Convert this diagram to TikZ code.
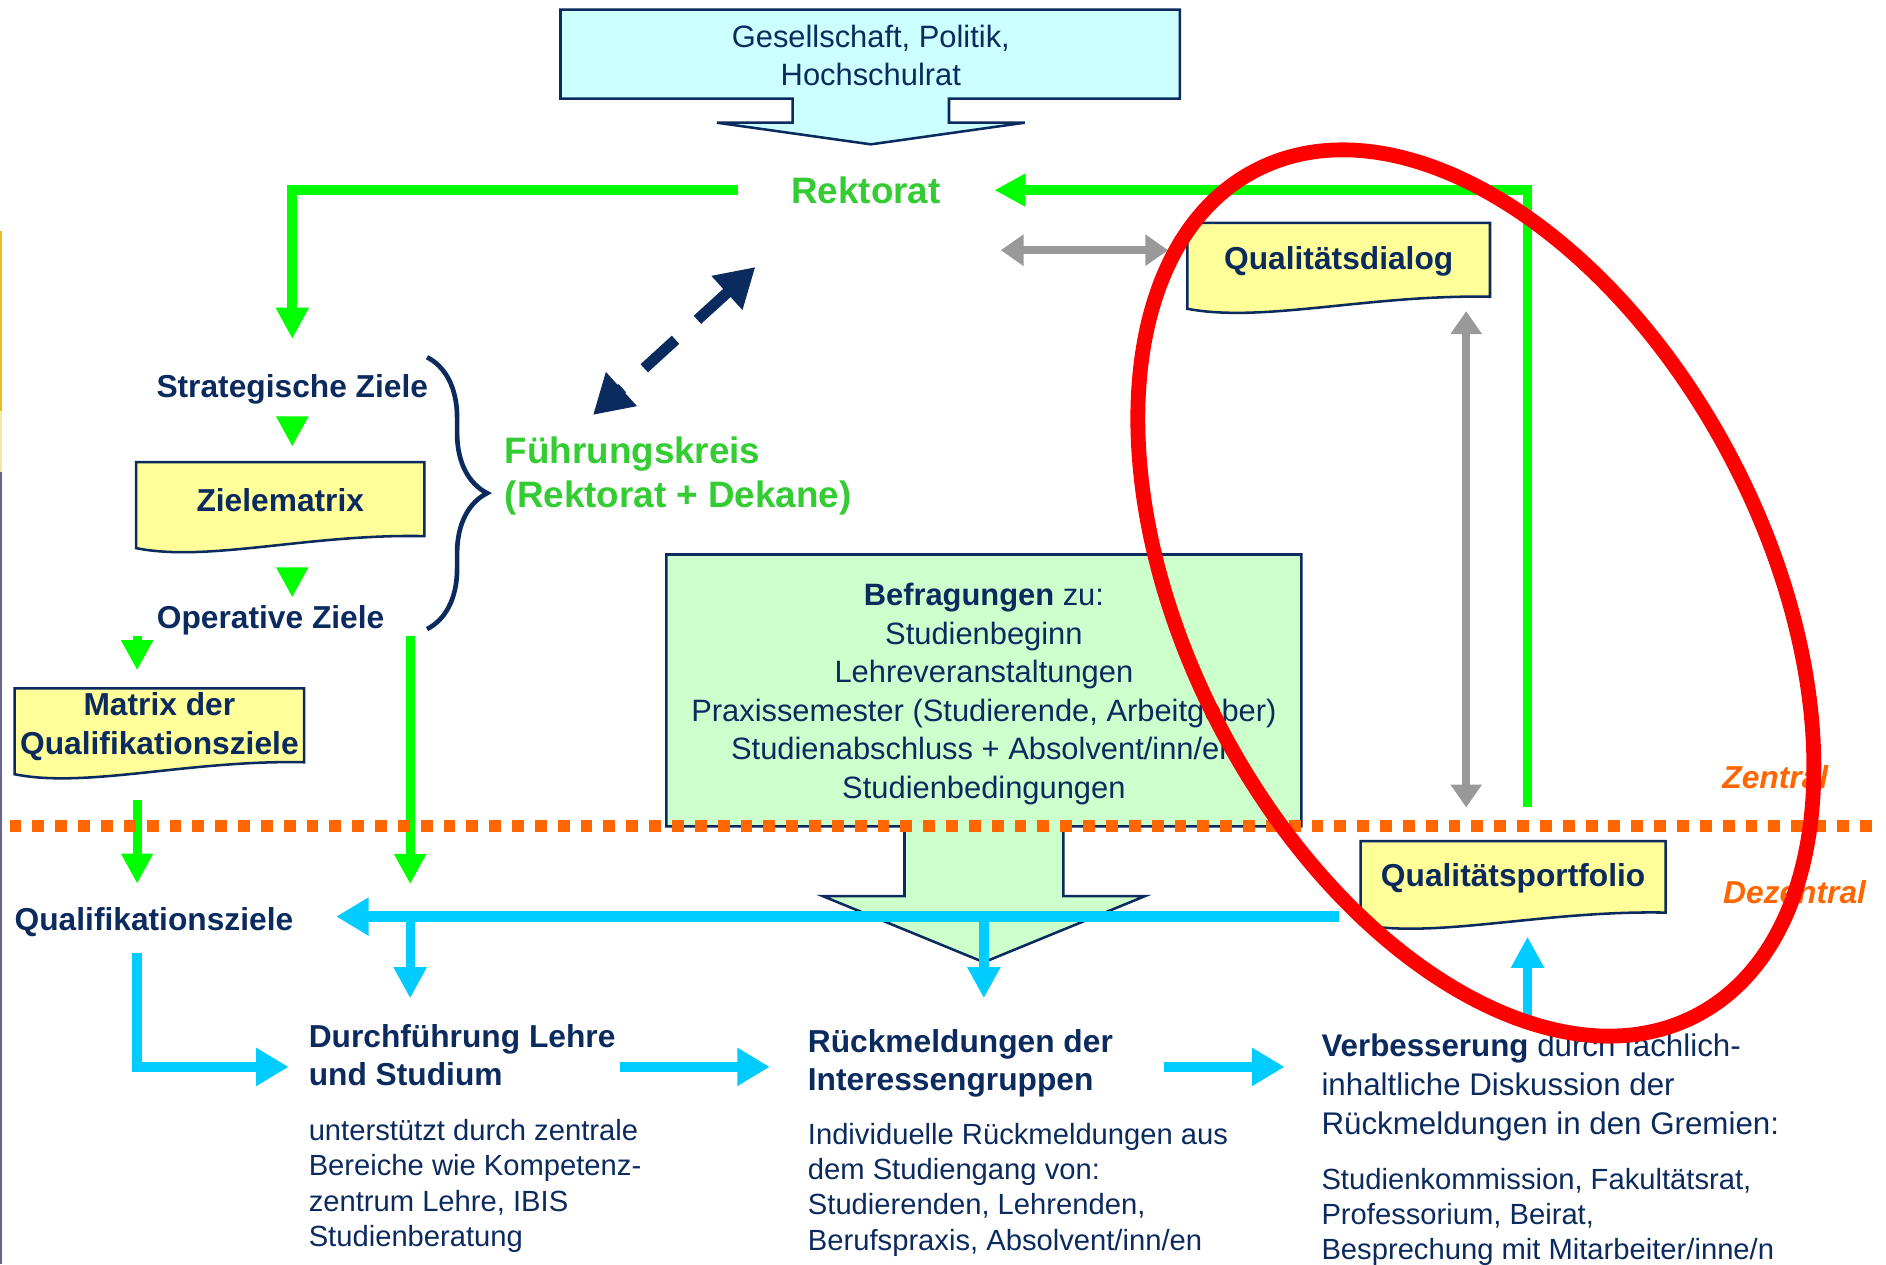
\documentclass[tikz,border=0pt]{standalone}
\usepackage{fontspec}
\setmainfont{Liberation Sans}
\usetikzlibrary{arrows.meta,calc,backgrounds,decorations.pathreplacing}

\definecolor{navy}{HTML}{0B2A5E}
\definecolor{rgreen}{HTML}{33CC33}
\definecolor{lgreen}{HTML}{00FF00}
\definecolor{qcyan}{HTML}{00CCFF}
\definecolor{qgray}{HTML}{999999}
\definecolor{qorange}{HTML}{FF6600}
\definecolor{qyellow}{HTML}{FFFF99}
\definecolor{skyfill}{HTML}{CCFFFF}
\definecolor{mintfill}{HTML}{CCFFCC}
\definecolor{edgeyellow}{HTML}{E6BE1E}
\definecolor{edgeblue}{HTML}{64648C}

\newcommand{\fbig}{\fontsize{8.7}{10.5}\selectfont}
\newcommand{\flbl}{\fontsize{7.5}{9.1}\selectfont}
\newcommand{\ftxt}{\fontsize{7.3}{9.1}\selectfont}
\newcommand{\fsub}{\fontsize{6.9}{8.35}\selectfont}
\newcommand{\fverb}{\fontsize{7.4}{9.25}\selectfont}

\newcommand{\wavebox}[1]{%
  \draw[docframe] (#1.north west) -- (#1.north east) -- ($(#1.south east)+(0,-2)$)
    .. controls ($(#1.south)!0.2!(#1.south east)+(0,-4)$) and ($(#1.south)!0.5!(#1.south west)+(0,20)$)
    .. ($(#1.south west)+(0,8)$) -- cycle;}

\begin{document}
\begin{tikzpicture}[x=0.01cm, y=-0.01cm,
  lbl/.style={font=\flbl\bfseries, text=navy, inner sep=0},
  chef/.style={font=\fbig\bfseries, text=rgreen, inner sep=0},
  zone/.style={font=\flbl\bfseries\itshape, text=qorange, inner sep=0, anchor=base},
  subtext/.style={font=\fsub, text=navy, inner sep=0, align=left, anchor=north west},
  docbox/.style={lbl, align=center},
  docframe/.style={draw=navy, fill=qyellow, line width=0.6pt},
  boxframe/.style={draw=navy, line width=0.6pt},
  topline/.style={draw=lgreen, line width=2.3pt, -{Triangle[width=0.26cm,length=0.26cm]}},
  tipline/.style={draw=lgreen, line width=2.1pt, -{Triangle[width=0.25cm,length=0.25cm]}},
  feedline/.style={draw=qcyan, line width=2.4pt, -{Triangle[width=0.3cm,length=0.27cm]}},
  feeddown/.style={draw=qcyan, line width=2.2pt, -{Triangle[width=0.26cm,length=0.26cm]}},
  dialogline/.style={draw=qgray, line width=2pt, {Triangle[width=0.25cm,length=0.19cm]}-{Triangle[width=0.25cm,length=0.19cm]}},
  leadline/.style={draw=navy, line width=2.6pt, dash pattern=on 10pt off 7pt, {Triangle[width=0.36cm,length=0.32cm]}-{Triangle[width=0.36cm,length=0.32cm]}}]
\useasboundingbox (0,0) rectangle (1568,1051);

\draw[edgeyellow, line width=0.6pt] (1,192) -- (1,342);
\draw[edgeyellow!40, line width=0.6pt] (1,342) -- (1,392);
\draw[edgeblue, line width=0.6pt] (1,392) -- (1,1051);

\draw[boxframe, fill=skyfill] (466,8) -- (981,8) -- (981,82) -- (789,82) -- (789,102) -- (852,102)
  -- (724,120) -- (596,102) -- (659,102) -- (659,82) -- (466,82) -- cycle;
\draw[boxframe, fill=mintfill] (554,461) -- (1082,461) -- (1082,687) -- (884,687) -- (884,745) -- (952,745)
  -- (818,800) -- (684,745) -- (752,745) -- (752,687) -- (554,687) -- cycle;

\node[font=\ftxt, text=navy, align=center, inner sep=0] (gesell) at (724,46) {Gesellschaft, Politik,\\Hochschulrat};
\node[chef, anchor=base, minimum width=2.12cm] (rektorat) at (720,169) {Rektorat};
\node[lbl, anchor=base] (strat) at (243,330.5) {Strategische Ziele};
\node[docbox, minimum width=2.38cm, minimum height=0.62cm] (zmatrix) at (233,416) {Zielematrix};
\node[lbl, anchor=base] (opziele) at (225,522.5) {Operative Ziele};
\node[docbox, minimum width=2.39cm, minimum height=0.62cm] (mqual) at (132.5,604) {Matrix der\\Qualifikationsziele};
\node[lbl, anchor=base] (qziele) at (128,773.5) {Qualifikationsziele};
\node[chef, align=left, anchor=north west] (fk) at (419,362.5) {Führungskreis\\(Rektorat + Dekane)};
\node[docbox, minimum width=2.5cm, minimum height=0.62cm] (qdialog) at (1113,217) {Qualitätsdialog};
\node[docbox, minimum width=2.52cm, minimum height=0.6cm] (qport) at (1258,730) {Qualitätsportfolio};
\node[font=\ftxt, text=navy, align=center, inner sep=0, anchor=north] (befr) at (818,484.5)
  {\textbf{Befragungen} zu:\\Studienbeginn\\Lehreveranstaltungen\\Praxissemester (Studierende, Arbeitgeber)\\Studienabschluss + Absolvent/inn/en\\Studienbedingungen};
\node[zone] (zentral) at (1476,655.5) {Zentral};
\node[zone] (dezentral) at (1492,751.5) {Dezentral};
\node[lbl, align=left, anchor=north west] (dfl) at (256,851) {Durchführung Lehre\\und Studium};
\node[subtext] (dflsub) at (256,930) {unterstützt durch zentrale\\Bereiche wie Kompetenz-\\zentrum Lehre, IBIS\\Studienberatung};
\node[lbl, align=left, anchor=north west] (rm) at (671,855) {Rückmeldungen der\\Interessengruppen};
\node[subtext] (rmsub) at (671,933) {Individuelle Rückmeldungen aus\\dem Studiengang von:\\Studierenden, Lehrenden,\\Berufspraxis, Absolvent/inn/en};
\node[font=\fverb, text=navy, inner sep=0, align=left, anchor=north west] (verb) at (1098,859)
  {\textbf{Verbesserung} durch fachlich-\\inhaltliche Diskussion der\\Rückmeldungen in den Gremien:};
\node[subtext, font=\fontsize{6.9}{8.25}\selectfont] (verbsub) at (1098,971) {Studienkommission, Fakultätsrat,\\Professorium, Beirat,\\Besprechung mit Mitarbeiter/inne/n};

\begin{scope}[on background layer]
\foreach \n in {zmatrix,mqual,qdialog,qport} {\wavebox{\n}}
\end{scope}

\coordinate (lane) at (114,0);
\coordinate (gx) at (1219,0);
\coordinate (rx) at (1270,0);
\coordinate (row) at (0,887);
\coordinate (cy1) at (341,762);
\coordinate (cy2) at (818,762);
\coordinate (cyr) at (1113,762);
\coordinate (gl) at (832,208);
\coordinate (nd1) at (628,222);
\coordinate (nd2) at (493,345);

\draw[navy, line width=1.1pt, decorate, decoration={brace, amplitude=0.5cm}] (355,297) -- (355,523);

\draw[topline, shorten >=0.29cm] (rektorat.west) -| (strat.north);
\draw[topline, shorten <=0.28cm] (qport.north -| rx) |- (rektorat.east);
\draw[tipline, shorten <=0.11cm, shorten >=0.13cm] (strat.south) -- (strat.south |- zmatrix.north);
\draw[tipline, shorten <=0.25cm, shorten >=0.06cm] (strat.south |- zmatrix.south) -- (strat.south |- opziele.north);
\draw[tipline, shorten >=0.15cm] (opziele.south -| lane) -- (mqual.north -| lane);
\draw[tipline, shorten <=0.29cm, shorten >=0.19cm] (mqual.south -| lane) -- (qziele.north -| lane);
\draw[tipline, shorten >=0.27cm] (opziele.south -| cy1) -- (cy1);

\draw[dialogline, shorten >=0.16cm] (gl) -- (gl -| qdialog.west);
\draw[dialogline, shorten <=0.10cm, shorten >=0.28cm] (qdialog.south -| gx) -- (qport.north -| gx);
\draw[leadline] (nd1) -- (nd2);

\draw[qorange, line width=2.8pt, dash pattern=on 2.8pt off 2.6pt] (8,687) -- (1560,687);

\draw[feedline, shorten >=0.35cm] (cyr) -- (qziele.east |- cyr);
\draw[feeddown, shorten >=0.21cm] (cy1) -- (cy1 |- dfl.north);
\draw[feeddown, shorten >=0.25cm] (cy2) -- (cy2 |- rm.north);
\draw[feedline, shorten <=0.13cm, shorten >=0.16cm] (qziele.south -| lane) |- (dfl.west |- row);
\draw[feedline, shorten <=0.03cm, shorten >=0.31cm] (dfl.east |- row) -- (rm.west |- row);
\draw[feedline, shorten <=0.42cm, shorten >=0.30cm] (rm.east |- row) -- (verb.west |- row);
\draw[feeddown, shorten <=0.09cm, shorten >=0.18cm] (verb.north -| rx) -- (qport.south -| rx);

\draw[red, line width=3.5pt, rotate around={-62.4:(1227,493)}] (1227,493) ellipse [x radius=3.96cm, y radius=2.40cm];
\end{tikzpicture}
\end{document}
